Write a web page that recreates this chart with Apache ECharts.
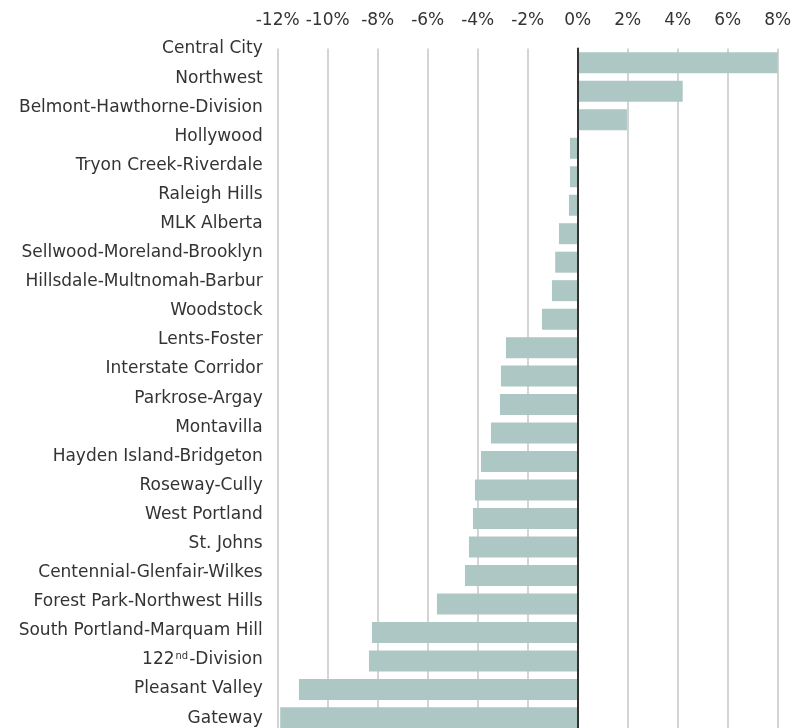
<!DOCTYPE html>
<html>
<head>
<meta charset="utf-8">
<script src="https://cdn.jsdelivr.net/npm/echarts@6/dist/echarts.min.js"></script>
<style>
  html, body { margin: 0; padding: 0; background: #fff; }
  #graficas { width: 804px; height: 728px; }
</style>
</head>
<body>
<div id="graficas"></div>
<script>
const categories = [
  'Central City', 'Northwest', 'Belmont-Hawthorne-Division', 'Hollywood',
  'Tryon Creek-Riverdale', 'Raleigh Hills', 'MLK Alberta', 'Sellwood-Moreland-Brooklyn',
  'Hillsdale-Multnomah-Barbur', 'Woodstock', 'Lents-Foster', 'Interstate Corridor',
  'Parkrose-Argay', 'Montavilla', 'Hayden Island-Bridgeton', 'Roseway-Cully',
  'West Portland', 'St. Johns', 'Centennial-Glenfair-Wilkes', 'Forest Park-Northwest Hills',
  'South Portland-Marquam Hill', '122nd-Division', 'Pleasant Valley', 'Gateway'
];
const changePct = [
  8.08, 4.2, 1.97, -0.31,
  -0.31, -0.35, -0.75, -0.9,
  -1.03, -1.43, -2.87, -3.07,
  -3.11, -3.47, -3.87, -4.11,
  -4.19, -4.35, -4.51, -5.63,
  -8.23, -8.35, -11.15, -11.9
];
const xTicks = { min: -12, max: 8, interval: 2 };

const textColor = '#333';
const font = 'DejaVu Sans';

const getOptionChart = ()=>{
  return {
    animation: false,
    // grid 0 holds the bars, grid 1 only carries the name labels (spaced a bit wider, as in the source)
    grid: [
      { left: 277.7, right: 26.3, top: 48.6, height: 683.5, outerBoundsMode: 'none' },
      { left: 277.7, right: 26.3, top: 34.5, height: 698.2, outerBoundsMode: 'none' }
    ],
    xAxis: [
      {
        type: 'value',
        gridIndex: 0,
        position: 'top',
        min: xTicks.min,
        max: xTicks.max,
        interval: xTicks.interval,
        axisLine: { show: false },
        axisTick: { show: false },
        axisLabel: {
          formatter: '{value}%',
          color: textColor,
          fontFamily: font,
          fontSize: 17,
          margin: 20
        },
        splitLine: { lineStyle: { color: '#c6c6c6', width: 1.5 } }
      },
      {
        type: 'value',
        gridIndex: 1,
        min: xTicks.min,
        max: xTicks.max,
        show: false
      }
    ],
    yAxis: [
      {
        type: 'category',
        gridIndex: 0,
        inverse: true,
        data: categories,
        z: 5,
        axisLine: { onZero: true, lineStyle: { color: '#333', width: 2 } },
        axisTick: { show: false },
        axisLabel: { show: false },
        splitLine: { show: false }
      },
      {
        type: 'category',
        gridIndex: 1,
        inverse: true,
        data: categories,
        axisLine: { show: false },
        axisTick: { show: false },
        splitLine: { show: false },
        axisLabel: {
          interval: 0,
          margin: 15,
          color: textColor,
          fontFamily: font,
          fontSize: 17,
          formatter: (v)=> v.replace(/^122nd/, '122{sup|nd}'),
          rich: {
            sup: { fontSize: 10, fontFamily: font, color: textColor, verticalAlign: 'top', padding: [0, 1, 0, 1] }
          }
        }
      }
    ],
    series: [
      {
        type: 'bar',
        xAxisIndex: 0,
        yAxisIndex: 0,
        data: changePct,
        barWidth: 21,
        itemStyle: { color: '#adc8c4' }
      }
    ]
  };
}

const initCharts = ()=>{
  const chart = echarts.init(document.querySelector("#graficas"));
  chart.setOption(getOptionChart());
}

window.addEventListener("load", ()=>{
  initCharts()
})
</script>
</body>
</html>
